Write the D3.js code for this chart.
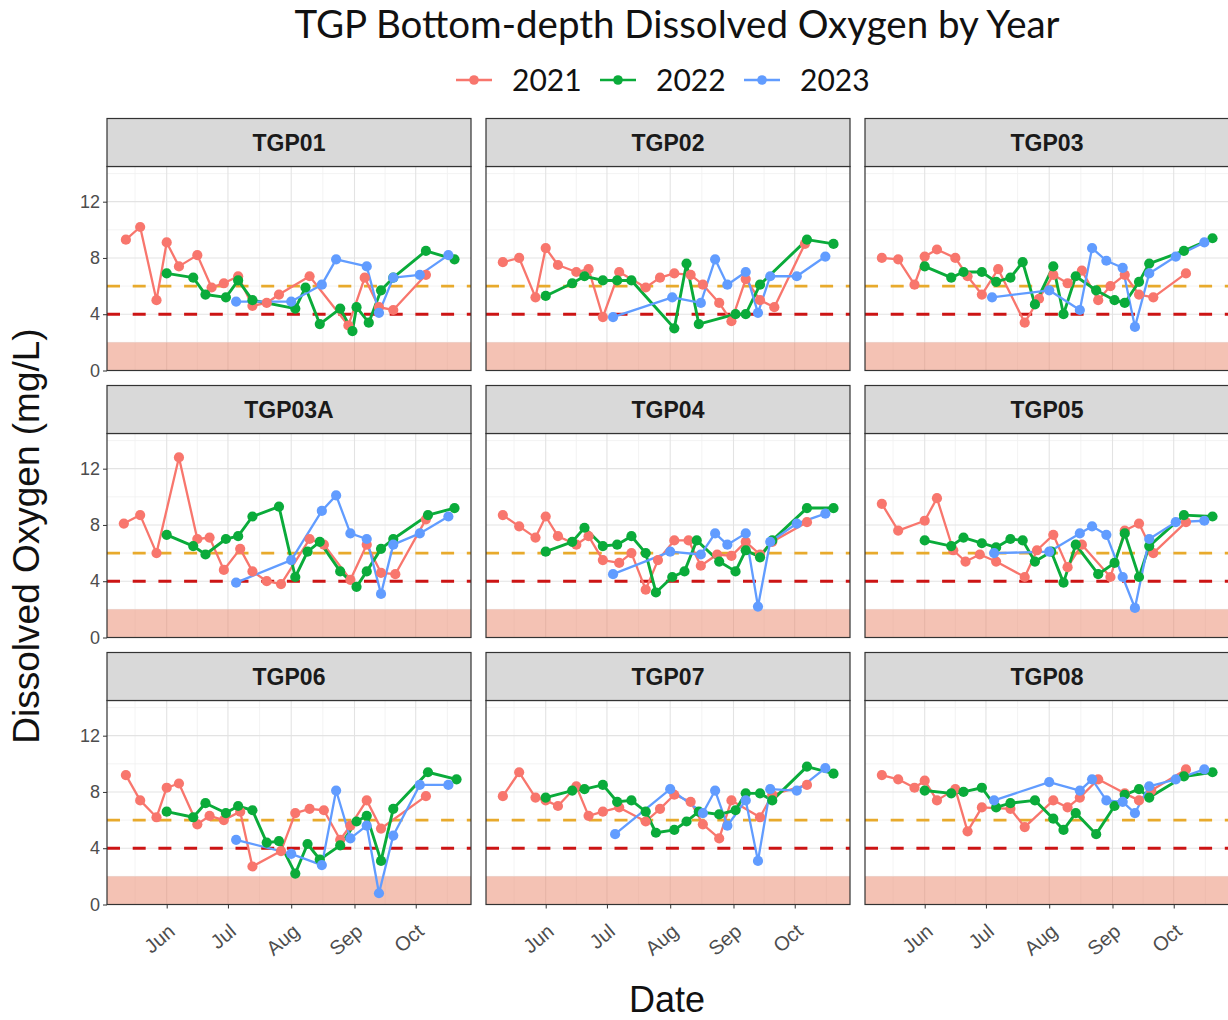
<!DOCTYPE html>
<html><head><meta charset="utf-8">
<script src="https://cdn.jsdelivr.net/npm/d3@7"></script>
<style>body{margin:0;background:#fff}</style>
</head><body>
<script>
const stations = ["TGP01","TGP02","TGP03","TGP03A","TGP04","TGP05","TGP06","TGP07","TGP08"];
const years = ["2021","2022","2023"];
const yearColors = ["#F8766D","#0AAB3A","#619CFF"];
const monthLabels = ["Jun","Jul","Aug","Sep","Oct"];
const yTicks = [0,4,8,12];
const yMinor = [2,6,10,14];
const thresholdGood = 6, thresholdLow = 4, hypoxicBand = [0,2];

// ---- data: [month-day, DO mg/L] ----
const TGP01_2021 = [["05-12",9.3],["05-19",10.2],["05-27",5.0],["06-01",9.1],["06-07",7.4],["06-16",8.2],["06-23",5.9],["06-29",6.2],["07-06",6.7],["07-13",4.6],["07-20",4.8],["07-26",5.4],["08-10",6.7],["08-29",3.2],["09-06",6.6],["09-13",4.5],["09-20",4.3],["10-06",6.8]];
const TGP01_2022 = [["06-01",6.9],["06-14",6.6],["06-20",5.4],["06-30",5.2],["07-06",6.4],["07-13",5.0],["08-03",4.4],["08-08",5.9],["08-15",3.3],["08-25",4.4],["08-31",2.8],["09-02",4.5],["09-08",3.4],["09-14",5.7],["09-20",6.6],["10-06",8.5],["10-20",7.9]];
const TGP01_2023 = [["07-05",4.9],["08-01",4.9],["08-16",6.1],["08-23",7.9],["09-07",7.4],["09-13",4.1],["09-20",6.6],["10-03",6.8],["10-17",8.2]];

const TGP02_2021 = [["05-11",7.7],["05-19",8.0],["05-27",5.2],["06-01",8.7],["06-07",7.5],["06-16",7.0],["06-22",7.2],["06-29",3.8],["07-07",7.0],["07-20",5.9],["07-27",6.6],["08-03",6.9],["08-11",6.8],["08-17",6.1],["08-25",4.8],["08-31",3.5],["09-07",6.5],["09-14",5.0],["09-21",4.5],["10-06",9.0]];
const TGP02_2022 = [["06-01",5.3],["06-14",6.2],["06-20",6.7],["06-29",6.4],["07-06",6.4],["07-13",6.4],["08-03",3.0],["08-09",7.6],["08-15",3.3],["09-02",4.0],["09-07",4.0],["09-14",6.1],["10-07",9.3],["10-20",9.0]];
const TGP02_2023 = [["07-04",3.8],["08-02",5.2],["08-16",4.8],["08-23",7.9],["08-29",6.1],["09-07",7.0],["09-13",4.1],["09-19",6.7],["10-02",6.7],["10-16",8.1]];

const TGP03_2021 = [["05-11",8.0],["05-19",7.9],["05-27",6.1],["06-01",8.1],["06-07",8.6],["06-16",8.0],["06-22",6.7],["06-29",5.4],["07-07",7.2],["07-20",3.4],["07-27",5.1],["08-03",6.8],["08-10",6.2],["08-17",7.1],["08-25",5.0],["08-31",6.0],["09-07",6.8],["09-14",5.4],["09-21",5.2],["10-07",6.9]];
const TGP03_2022 = [["06-01",7.4],["06-14",6.6],["06-20",7.0],["06-29",7.0],["07-06",6.3],["07-13",6.6],["07-19",7.7],["07-25",4.7],["08-03",7.4],["08-08",4.0],["08-14",6.7],["08-24",5.7],["09-02",5.0],["09-07",4.8],["09-14",6.3],["09-19",7.6],["10-06",8.5],["10-20",9.4]];
const TGP03_2023 = [["07-04",5.2],["08-01",5.7],["08-16",4.3],["08-22",8.7],["08-29",7.8],["09-06",7.3],["09-12",3.1],["09-19",6.9],["10-02",8.1],["10-16",9.1]];

const TGP03A_2021 = [["05-11",8.1],["05-19",8.7],["05-27",6.0],["06-07",12.8],["06-16",7.0],["06-22",7.1],["06-29",4.8],["07-07",6.3],["07-13",4.7],["07-20",4.0],["07-27",3.8],["08-10",7.0],["08-17",6.6],["08-30",4.1],["09-07",6.6],["09-14",4.6],["09-21",4.5],["10-06",8.4]];
const TGP03A_2022 = [["06-01",7.3],["06-14",6.5],["06-20",5.9],["06-30",7.0],["07-06",7.2],["07-13",8.6],["07-26",9.3],["08-03",4.3],["08-09",6.1],["08-15",6.8],["08-25",4.7],["09-02",3.6],["09-07",4.7],["09-14",6.3],["09-20",7.0],["10-07",8.7],["10-20",9.2]];
const TGP03A_2023 = [["07-05",3.9],["08-01",5.5],["08-16",9.0],["08-23",10.1],["08-30",7.4],["09-07",7.0],["09-14",3.1],["09-20",6.6],["10-03",7.4],["10-17",8.6]];

const TGP04_2021 = [["05-11",8.7],["05-19",7.9],["05-27",7.1],["06-01",8.6],["06-07",7.2],["06-16",6.6],["06-22",7.2],["06-29",5.5],["07-07",5.3],["07-13",6.0],["07-20",3.4],["07-26",5.5],["08-03",6.9],["08-10",6.9],["08-16",5.1],["08-24",5.9],["08-31",5.8],["09-07",6.8],["09-14",5.9],["09-20",6.8],["10-07",8.2]];
const TGP04_2022 = [["06-01",6.1],["06-14",6.8],["06-20",7.8],["06-29",6.5],["07-06",6.6],["07-13",7.2],["07-20",6.0],["07-25",3.2],["08-02",4.3],["08-08",4.7],["08-14",6.9],["08-25",5.4],["09-02",4.7],["09-07",6.2],["09-14",5.7],["09-20",6.9],["10-07",9.2],["10-20",9.2]];
const TGP04_2023 = [["07-04",4.5],["08-01",6.1],["08-16",5.9],["08-23",7.4],["08-29",6.6],["09-07",7.4],["09-13",2.2],["09-19",6.8],["10-02",8.1],["10-16",8.8]];

const TGP05_2021 = [["05-11",9.5],["05-19",7.6],["06-01",8.3],["06-07",9.9],["06-15",6.2],["06-21",5.4],["06-28",5.9],["07-06",5.4],["07-20",4.3],["07-26",6.2],["08-03",7.3],["08-10",5.0],["08-17",6.6],["08-31",4.3],["09-07",7.6],["09-14",8.1],["09-21",6.0],["10-07",8.2]];
const TGP05_2022 = [["06-01",6.9],["06-14",6.5],["06-20",7.1],["06-29",6.7],["07-06",6.4],["07-13",7.0],["07-19",6.9],["07-25",5.4],["08-02",6.1],["08-08",3.9],["08-14",6.6],["08-25",4.5],["09-02",5.3],["09-07",7.4],["09-14",4.3],["09-19",6.5],["10-06",8.7],["10-20",8.6]];
const TGP05_2023 = [["07-05",6.0],["08-01",6.1],["08-16",7.4],["08-22",7.9],["08-29",7.3],["09-06",4.3],["09-12",2.1],["09-19",7.0],["10-02",8.2],["10-16",8.3]];

const TGP06_2021 = [["05-12",9.2],["05-19",7.4],["05-27",6.2],["06-01",8.3],["06-07",8.6],["06-16",5.7],["06-22",6.3],["06-29",6.0],["07-07",6.6],["07-13",2.7],["07-27",3.8],["08-03",6.5],["08-10",6.8],["08-17",6.7],["08-25",4.6],["08-30",5.6],["09-07",7.4],["09-14",5.4],["10-06",7.7]];
const TGP06_2022 = [["06-01",6.6],["06-14",6.2],["06-20",7.2],["06-30",6.5],["07-06",7.0],["07-13",6.7],["07-20",4.4],["07-26",4.5],["08-03",2.2],["08-09",4.3],["08-15",3.2],["08-25",4.2],["09-02",5.9],["09-07",6.3],["09-14",3.1],["09-20",6.8],["10-07",9.4],["10-21",8.9]];
const TGP06_2023 = [["07-05",4.6],["08-01",3.6],["08-16",2.8],["08-23",8.1],["08-30",4.7],["09-07",5.6],["09-13",0.8],["09-20",4.9],["10-03",8.5],["10-17",8.5]];

const TGP07_2021 = [["05-11",7.7],["05-19",9.4],["05-27",7.6],["06-01",7.4],["06-07",7.0],["06-16",8.4],["06-22",6.3],["06-29",6.6],["07-07",6.9],["07-20",5.9],["07-27",6.8],["08-03",7.8],["08-11",7.3],["08-17",5.7],["08-25",4.7],["08-31",7.4],["09-14",6.2],["09-20",7.8],["10-07",8.5]];
const TGP07_2022 = [["06-01",7.6],["06-14",8.1],["06-20",8.2],["06-29",8.5],["07-06",7.3],["07-13",7.4],["07-20",6.6],["07-25",5.1],["08-03",5.3],["08-09",5.9],["08-15",6.6],["08-25",6.4],["09-02",6.7],["09-07",7.9],["09-14",7.9],["09-20",7.4],["10-07",9.8],["10-20",9.3]];
const TGP07_2023 = [["07-05",5.0],["08-01",8.2],["08-17",6.5],["08-23",8.1],["08-29",5.6],["09-07",7.4],["09-13",3.1],["09-19",8.2],["10-02",8.1],["10-16",9.7]];

const TGP08_2021 = [["05-11",9.2],["05-19",8.9],["05-27",8.3],["06-01",8.8],["06-07",7.4],["06-16",8.2],["06-22",5.2],["06-29",6.9],["07-13",6.8],["07-20",5.5],["08-03",7.4],["08-10",6.9],["08-16",7.6],["08-25",8.9],["09-07",7.9],["09-14",7.4],["09-20",8.1],["10-07",9.6]];
const TGP08_2022 = [["06-01",8.1],["06-14",7.9],["06-20",8.0],["06-29",8.3],["07-06",6.9],["07-13",7.2],["07-25",7.4],["08-03",6.1],["08-08",5.3],["08-14",6.5],["08-24",5.0],["09-02",7.0],["09-07",7.8],["09-14",8.2],["09-19",7.6],["10-06",9.1],["10-20",9.4]];
const TGP08_2023 = [["07-05",7.4],["08-01",8.7],["08-16",8.1],["08-22",8.9],["08-29",7.4],["09-06",7.3],["09-12",6.5],["09-19",8.4],["10-02",8.9],["10-16",9.6]];

const seriesByStation = {
  TGP01:[TGP01_2021,TGP01_2022,TGP01_2023], TGP02:[TGP02_2021,TGP02_2022,TGP02_2023],
  TGP03:[TGP03_2021,TGP03_2022,TGP03_2023], TGP03A:[TGP03A_2021,TGP03A_2022,TGP03A_2023],
  TGP04:[TGP04_2021,TGP04_2022,TGP04_2023], TGP05:[TGP05_2021,TGP05_2022,TGP05_2023],
  TGP06:[TGP06_2021,TGP06_2022,TGP06_2023], TGP07:[TGP07_2021,TGP07_2022,TGP07_2023],
  TGP08:[TGP08_2021,TGP08_2022,TGP08_2023]
};

// ---- layout ----
const W = 1228, H = 1020;
const colLeft = [107, 486, 865], panelW = 364;
const rowTop = [166.5, 433.5, 700.5], panelH = 204, stripH = 48;
const lineW = [2.3, 2.9, 2.3];
const pointR = 5.1;

const parseMD = d3.utcParse("%Y-%m-%d");
const parseT = d3.utcParse("%Y-%m-%dT%H:%M");
const toDate = md => parseMD("2021-" + md);

const svg = d3.select("body").append("svg").attr("width", W).attr("height", H)
  .style("font-family", "'Liberation Sans', Arial, sans-serif");

const x = d3.scaleUtc().domain([parseT("2021-05-02T18:00"), parseT("2021-10-28T02:00")]).range([0, panelW]);
const y = d3.scaleLinear().domain([0, 14.5]).range([panelH, 0]);

const majorX = d3.utcMonth.range(toDate("06-01"), toDate("11-01"));
const allMonths = d3.utcMonth.range(toDate("05-01"), toDate("12-01"));
const minorX = d3.pairs(allMonths).map(([a,b]) => new Date((+a + +b)/2));

// Title
svg.append("text").attr("x", 677).attr("y", 38).attr("text-anchor", "middle")
  .style("font-family", "Lato, 'Open Sans', sans-serif").style("font-size", "38.5px").attr("fill", "#111")
  .text("TGP Bottom-depth Dissolved Oxygen by Year");

// Legend
const legX = [456, 600, 744];
years.forEach((yr, i) => {
  const g = svg.append("g").attr("transform", `translate(${legX[i]},80)`);
  g.append("line").attr("x1", 0).attr("x2", 36).attr("stroke", yearColors[i]).attr("stroke-width", 2.4);
  g.append("circle").attr("cx", 18).attr("r", 4.8).attr("fill", yearColors[i]);
  g.append("text").attr("x", 56).attr("y", 11).style("font-family", "Lato, 'Open Sans', sans-serif")
    .style("font-size", "30px").attr("fill", "#111").text(yr);
});

const line = d3.line().x(d => x(toDate(d[0]))).y(d => y(d[1]));

stations.forEach((st, k) => {
  const col = k % 3, row = Math.floor(k / 3);
  const g = svg.append("g").attr("transform", `translate(${colLeft[col]},${rowTop[row]})`);
  // strip
  const s = svg.append("g").attr("transform", `translate(${colLeft[col]},${rowTop[row] - stripH})`);
  s.append("rect").attr("width", panelW).attr("height", stripH).attr("fill", "#D9D9D9")
    .attr("stroke", "#333").attr("stroke-width", 1.2);
  s.append("text").attr("x", panelW / 2).attr("y", stripH / 2 + 8.5).attr("text-anchor", "middle")
    .style("font-size", "23px").style("font-weight", "bold").attr("fill", "#1A1A1A").text(st);
  // panel bg
  g.append("rect").attr("width", panelW).attr("height", panelH).attr("fill", "#fff");
  // grid
  g.selectAll(".gxm").data(minorX.filter(d => x(d) > 0 && x(d) < panelW)).join("line")
    .attr("x1", d => x(d)).attr("x2", d => x(d)).attr("y1", 0).attr("y2", panelH)
    .attr("stroke", "#F0F0F0").attr("stroke-width", 0.8);
  g.selectAll(".gym").data(yMinor).join("line")
    .attr("y1", d => y(d)).attr("y2", d => y(d)).attr("x1", 0).attr("x2", panelW)
    .attr("stroke", "#F0F0F0").attr("stroke-width", 0.8);
  g.selectAll(".gx").data(majorX).join("line")
    .attr("x1", d => x(d)).attr("x2", d => x(d)).attr("y1", 0).attr("y2", panelH)
    .attr("stroke", "#E3E3E3").attr("stroke-width", 1.1);
  g.selectAll(".gy").data(yTicks).join("line")
    .attr("y1", d => y(d)).attr("y2", d => y(d)).attr("x1", 0).attr("x2", panelW)
    .attr("stroke", "#E3E3E3").attr("stroke-width", 1.1);
  // hypoxic band
  g.append("rect").attr("x", 0).attr("width", panelW)
    .attr("y", y(hypoxicBand[1])).attr("height", y(hypoxicBand[0]) - y(hypoxicBand[1]))
    .attr("fill", "#E98569").attr("fill-opacity", 0.5);
  // thresholds
  g.append("line").attr("x1", 0).attr("x2", panelW).attr("y1", y(thresholdGood)).attr("y2", y(thresholdGood))
    .attr("stroke", "#E8AA2C").attr("stroke-width", 2.6).attr("stroke-dasharray", "13,12.7");
  g.append("line").attr("x1", 0).attr("x2", panelW).attr("y1", y(thresholdLow)).attr("y2", y(thresholdLow))
    .attr("stroke", "#CC1414").attr("stroke-width", 3).attr("stroke-dasharray", "13,12.7");
  // data
  const ser = seriesByStation[st];
  ser.forEach((arr, i) => {
    g.append("path").datum(arr).attr("d", line).attr("fill", "none")
      .attr("stroke", yearColors[i]).attr("stroke-width", lineW[i]).attr("stroke-linejoin", "round");
  });
  ser.forEach((arr, i) => {
    g.selectAll(null).data(arr).join("circle")
      .attr("cx", d => x(toDate(d[0]))).attr("cy", d => y(d[1])).attr("r", pointR).attr("fill", yearColors[i]);
  });
  // border
  g.append("rect").attr("width", panelW).attr("height", panelH).attr("fill", "none")
    .attr("stroke", "#333").attr("stroke-width", 1.2);
  // y axis on first column
  if (col === 0) {
    const ya = g.append("g").call(d3.axisLeft(y).tickValues(yTicks).tickSize(4).tickPadding(3));
    ya.select(".domain").remove();
    ya.selectAll("line").attr("stroke", "#333");
    ya.selectAll("text").style("font-size", "18px").attr("fill", "#4D4D4D")
      .style("font-family", "'Liberation Sans', Arial, sans-serif");
  }
  // x axis on bottom row
  if (row === 2) {
    const xa = g.append("g").attr("transform", `translate(0,${panelH})`)
      .call(d3.axisBottom(x).tickValues(majorX).tickSize(4).tickFormat((d, i) => monthLabels[i]));
    xa.select(".domain").remove();
    xa.selectAll("line").attr("stroke", "#333");
    xa.selectAll("text").style("font-size", "20px").attr("fill", "#4D4D4D")
      .style("font-family", "'Liberation Sans', Arial, sans-serif")
      .attr("text-anchor", "end").attr("dy", null).attr("y", 0)
      .attr("transform", "translate(9,29) rotate(-40)");
  }
});

// axis titles
svg.append("text").attr("x", 667).attr("y", 1012).attr("text-anchor", "middle")
  .style("font-size", "36px").attr("fill", "#111").text("Date");
svg.append("text").attr("transform", "translate(39,536) rotate(-90)").attr("text-anchor", "middle")
  .style("font-size", "37px").attr("fill", "#111").text("Dissolved Oxygen (mg/L)");
</script>
</body></html>
